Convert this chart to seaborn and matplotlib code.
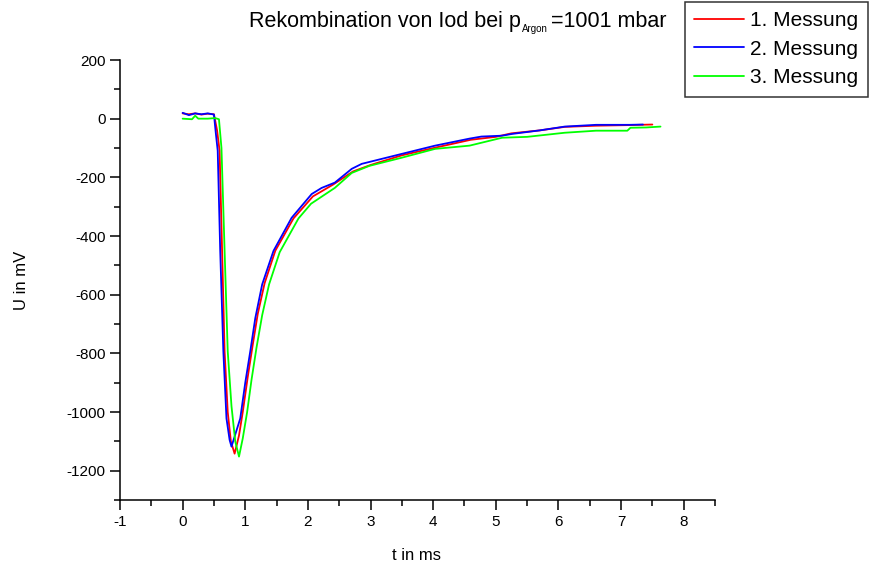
import pandas as pd
import seaborn as sns
import matplotlib.pyplot as plt
from matplotlib.ticker import MultipleLocator

t_1 = [0.00, 0.10, 0.20, 0.30, 0.40, 0.50, 0.55, 0.59, 0.63, 0.67, 0.72, 0.77, 0.83,
       0.90, 0.96, 1.04, 1.12, 1.20, 1.31, 1.48, 1.77, 2.08, 2.40, 2.72, 3.00, 3.50,
       4.05, 4.60, 5.00, 5.25, 5.70, 6.10, 6.60, 7.10, 7.50]
u_1 = [18, 15, 18, 14, 17, 15, -40, -109, -450, -793, -1000, -1100, -1142,
       -1080, -1000, -880, -770, -665, -560, -450, -340, -265, -225, -180, -158, -125,
       -98, -72, -62, -50, -40, -28, -24, -22, -20]

t_2 = [0.00, 0.10, 0.20, 0.30, 0.40, 0.50, 0.53, 0.56, 0.60, 0.65, 0.70, 0.75, 0.78,
       0.85, 0.92, 1.00, 1.08, 1.16, 1.27, 1.45, 1.74, 2.06, 2.22, 2.43, 2.70, 2.86,
       3.50, 4.03, 4.58, 4.77, 5.10, 5.26, 5.70, 6.10, 6.60, 7.14, 7.35]
u_2 = [20, 12, 18, 15, 18, 14, -50, -109, -450, -793, -1022, -1095, -1118,
       -1070, -1022, -900, -793, -680, -565, -451, -338, -257, -236, -218, -171, -154,
       -120, -92, -68, -61, -58, -52, -40, -27, -21, -21, -20]

t_3 = [0.00, 0.15, 0.20, 0.25, 0.40, 0.52, 0.58, 0.62, 0.67, 0.72, 0.78, 0.84, 0.90,
       0.96, 1.03, 1.10, 1.18, 1.27, 1.38, 1.55, 1.85, 2.05, 2.43, 2.70, 2.98, 3.50,
       4.03, 4.58, 5.10, 5.50, 6.10, 6.60, 7.10, 7.15, 7.40, 7.63]
u_3 = [0, -2, 10, 0, 0, 2, -2, -100, -450, -793, -980, -1100, -1152,
       -1090, -1000, -890, -780, -670, -565, -455, -340, -290, -236, -185, -161, -133,
       -103, -92, -65, -62, -48, -41, -41, -31, -30, -27]

namen = ['1. Messung', '2. Messung', '3. Messung']
farben = ['#ff0000', '#0000ff', '#00ff00']

df = pd.concat([
    pd.DataFrame({'t': t_1, 'U': u_1, 'Messung': namen[0]}),
    pd.DataFrame({'t': t_2, 'U': u_2, 'Messung': namen[1]}),
    pd.DataFrame({'t': t_3, 'U': u_3, 'Messung': namen[2]}),
])

sns.set_style('ticks')
plt.rcParams['font.family'] = ['Liberation Sans', 'DejaVu Sans']
plt.rcParams['axes.unicode_minus'] = False
plt.rcParams['text.color'] = 'black'
plt.rcParams['xtick.color'] = 'black'
plt.rcParams['ytick.color'] = 'black'

fig = plt.figure(figsize=(8.7, 5.7), dpi=100)
ax = fig.add_axes([120 / 870, 70 / 570, 595 / 870, 440 / 570])

sns.lineplot(data=df, x='t', y='U', hue='Messung', palette=farben,
             sort=False, estimator=None, linewidth=1.3, ax=ax)

ax.set_xlim(-1, 8.5)
ax.set_ylim(-1300, 200)
ax.xaxis.set_major_locator(MultipleLocator(1))
ax.xaxis.set_minor_locator(MultipleLocator(0.5))
ax.yaxis.set_major_locator(MultipleLocator(200))
ax.yaxis.set_minor_locator(MultipleLocator(100))
ax.tick_params(which='major', length=7, width=1.1, labelsize=11, direction='out', color='black')
ax.tick_params(which='minor', length=4, width=1.1, direction='out', color='black')
for s in ['top', 'right']:
    ax.spines[s].set_visible(False)
for s in ['left', 'bottom']:
    ax.spines[s].set_linewidth(1.1)
    ax.spines[s].set_color('black')

ax.set_xlabel('')
ax.set_ylabel('')
fig.text(417 / 870, 1 - 555 / 570, 't in ms', ha='center', va='center', fontsize=12)
fig.text(22 / 870, 1 - 280 / 570, 'U in mV', ha='center', va='center', rotation=90, fontsize=12)

# Titel mit tiefgestelltem Index
fig.canvas.draw()
r = fig.canvas.get_renderer()
t1 = fig.text(0, 1 - 27 / 570, 'Rekombination von Iod bei p', fontsize=15.5, va='baseline')
bb = t1.get_window_extent(r)
t2 = fig.text((bb.x1 + 1) / 870, 1 - 32 / 570, 'Argon', fontsize=7, va='baseline')
bb2 = t2.get_window_extent(r)
t3 = fig.text((bb2.x1 + 3) / 870, 1 - 27 / 570, '=1001 mbar', fontsize=15.5, va='baseline')
bb3 = t3.get_window_extent(r)
# ganzen Titel zentrieren bei x=458
shift = (458 - (bb.x0 + bb3.x1) / 2) / 870
for t in (t1, t2, t3):
    x, y = t.get_position()
    t.set_position((x + shift, y))

leg = ax.legend(loc='upper right', bbox_to_anchor=(868 / 870, 568 / 570),
                bbox_transform=fig.transFigure, fontsize=15, frameon=True,
                fancybox=False, handlelength=2.4, handletextpad=0.3,
                labelspacing=0.45, borderpad=0.45, borderaxespad=0)
leg.get_frame().set_edgecolor('black')
leg.get_frame().set_linewidth(1.1)
for line in leg.get_lines():
    line.set_linewidth(1.3)

plt.savefig('out.png', dpi=100)
